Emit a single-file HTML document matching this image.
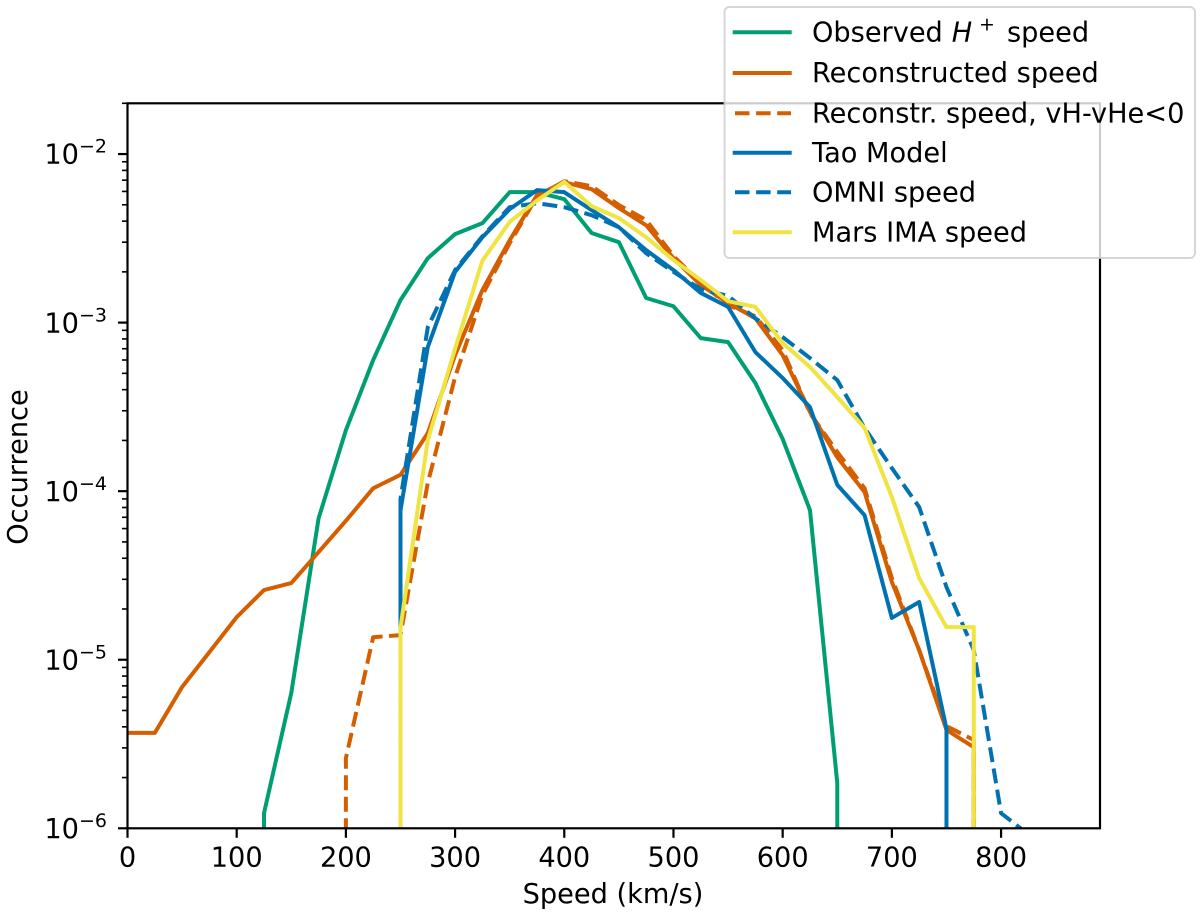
<!DOCTYPE html>
<html lang="en">
<head>
<meta charset="utf-8">
<title>Speed occurrence distribution</title>
<style>
html,body{margin:0;padding:0;background:#fff;}
svg{display:block;font-family:"DejaVu Sans","Liberation Sans",sans-serif;fill:#000;}
</style>
</head>
<body>
<svg id="chart" width="1200" height="919" viewBox="0 0 1200 919" xmlns="http://www.w3.org/2000/svg">
  <defs><clipPath id="plot-clip"><rect x="127.5" y="103.3" width="972.5" height="725"/></clipPath></defs>
  <g id="series" clip-path="url(#plot-clip)"></g>
  <g id="axes"></g>
  <text x="613" y="903" font-size="27.2" text-anchor="middle">Speed (km/s)</text>
  <text transform="translate(27,467) rotate(-90)" font-size="27.2" text-anchor="middle">Occurrence</text>
  <g>
    <rect x="724.5" y="7" width="470.5" height="251" rx="5" ry="5" fill="#fff" fill-opacity="0.8" stroke="#ccc" stroke-opacity="0.8" stroke-width="2"/>
    <line x1="732.7" x2="791.7" y1="32.3" y2="32.3" stroke="#009E73" stroke-width="4"/>
    <text y="41.5" font-size="27.2"><tspan x="812">Observed</tspan><tspan x="951.7" font-style="italic">H</tspan><tspan x="979" dy="-11" font-size="19">+</tspan><tspan x="1007" dy="11">speed</tspan></text>
    <line x1="732.7" x2="791.7" y1="73" y2="73" stroke="#D55E00" stroke-width="4"/>
    <text x="812" y="82.2" font-size="27.2">Reconstructed speed</text>
    <line x1="735" x2="791" y1="113.3" y2="113.3" stroke="#D55E00" stroke-width="4" stroke-dasharray="14.5 6.6"/>
    <text x="812" y="122.5" font-size="27.2">Reconstr. speed, vH-vHe&lt;0</text>
    <line x1="732.7" x2="791.7" y1="152.7" y2="152.7" stroke="#0072B2" stroke-width="4"/>
    <text x="812" y="161.9" font-size="27.2">Tao Model</text>
    <line x1="735" x2="791" y1="192.3" y2="192.3" stroke="#0072B2" stroke-width="4" stroke-dasharray="14.5 6.6"/>
    <text x="812" y="201.5" font-size="27.2">OMNI speed</text>
    <line x1="732.7" x2="791.7" y1="232.3" y2="232.3" stroke="#F0E442" stroke-width="4"/>
    <text x="812" y="241.5" font-size="27.2">Mars IMA speed</text>
  </g>
</svg>
<script>
var speeds = [0,25,50,75,100,125,150,175,200,225,250,275,300,325,350,375,400,425,450,475,500,525,550,575,600,625,650,675,700,725,750,775,800,825,850];
var observedH = [0,0,0,0,0,1.23e-6,6.35e-6,6.9e-5,2.3e-4,6.0e-4,1.36e-3,2.41e-3,3.35e-3,3.89e-3,5.94e-3,5.94e-3,5.4e-3,3.4e-3,3.0e-3,1.4e-3,1.25e-3,8.09e-4,7.66e-4,4.38e-4,2.04e-4,7.72e-5,1.86e-6,0,0,0,0,0,0,0,0];
var reconstructed = [3.68e-6,3.68e-6,6.89e-6,1.11e-5,1.79e-5,2.59e-5,2.85e-5,4.35e-5,6.67e-5,1.04e-4,1.25e-4,2.21e-4,6.41e-4,1.56e-3,3.08e-3,5.7e-3,6.81e-3,6.19e-3,4.78e-3,3.78e-3,2.41e-3,1.67e-3,1.31e-3,1.06e-3,6.41e-4,2.95e-4,1.59e-4,9.88e-5,2.89e-5,1.14e-5,3.83e-6,3.03e-6,0,0,0];
var reconstructedNeg = [0,0,0,0,0,0,0,0,2.61e-6,1.36e-5,1.4e-5,1.12e-4,4.75e-4,1.46e-3,2.96e-3,5.6e-3,6.9e-3,6.45e-3,4.98e-3,4.06e-3,2.48e-3,1.72e-3,1.27e-3,1.09e-3,6.87e-4,2.9e-4,1.71e-4,1.04e-4,3.05e-5,1.14e-5,4.04e-6,3.34e-6,0,0,0];
var taoModel = [0,0,0,0,0,0,0,0,0,0,7.7e-5,7.16e-4,2.0e-3,3.21e-3,4.71e-3,6.11e-3,5.94e-3,4.65e-3,3.68e-3,2.69e-3,2.05e-3,1.5e-3,1.24e-3,6.68e-4,4.69e-4,3.15e-4,1.09e-4,7.2e-5,1.77e-5,2.2e-5,3.9e-6,0,0,0,0];
var omni = [0,0,0,0,0,0,0,0,0,0,9.0e-5,9.4e-4,2.05e-3,3.25e-3,4.84e-3,5.11e-3,4.84e-3,4.34e-3,3.68e-3,2.58e-3,2.0e-3,1.58e-3,1.44e-3,1.06e-3,8.2e-4,6.16e-4,4.56e-4,2.37e-4,1.37e-4,8.05e-5,2.7e-5,1.14e-5,1.23e-6,9.2e-7,0];
var marsIma = [0,0,0,0,0,0,0,0,0,0,1.55e-5,2.01e-4,7.0e-4,2.33e-3,3.96e-3,5.3e-3,6.84e-3,4.91e-3,4.17e-3,3.21e-3,2.35e-3,1.79e-3,1.34e-3,1.24e-3,7.56e-4,5.45e-4,3.62e-4,2.37e-4,9.23e-5,3.05e-5,1.56e-5,1.56e-5,0,0,0];
var xTickValues = [0,100,200,300,400,500,600,700,800];
var yTickExponents = [-6,-5,-4,-3,-2];
var minorMultipliers = [2,3,4,5,6,7,8,9];

var NS = 'http://www.w3.org/2000/svg';
var plot = {left:127.5, right:1100, top:103.3, bottom:828.3, xMin:0, xMax:890.6, yMin:1e-6, yMax:0.02};
function xScale(v){ return plot.left + (v - plot.xMin) / (plot.xMax - plot.xMin) * (plot.right - plot.left); }
function yScale(v){ return plot.bottom - (Math.log10(v) - Math.log10(plot.yMin)) / (Math.log10(plot.yMax) - Math.log10(plot.yMin)) * (plot.bottom - plot.top); }
function make(tag, attrs){
  var el = document.createElementNS(NS, tag);
  for (var k in attrs) el.setAttribute(k, attrs[k]);
  return el;
}
function linePath(values){
  var parts = [];
  for (var i = 0; i < values.length; i++){
    if (values[i] > 0){
      parts.push([xScale(speeds[i]), yScale(values[i])]);
    } else if (i + 1 < values.length && values[i + 1] > 0){
      parts.push([xScale(speeds[i + 1]), plot.bottom + 5]);
    } else if (i > 0 && values[i - 1] > 0){
      parts.push([xScale(speeds[i - 1]), plot.bottom + 5]);
    }
  }
  return parts.map(function(p, j){ return (j ? 'L' : 'M') + p[0].toFixed(2) + ' ' + p[1].toFixed(2); }).join(' ');
}
var seriesGroup = document.getElementById('series');
var axesGroup = document.getElementById('axes');

function drawSeries(values, color, dashed, name){
  var path = make('path', {d: linePath(values), fill: 'none', stroke: color, 'stroke-width': 4, 'stroke-linejoin': 'round'});
  if (dashed) path.setAttribute('stroke-dasharray', '15 6.5');
  
  
  seriesGroup.appendChild(path);
}
drawSeries(observedH, '#009E73', false, 'observed-h-speed-line');
drawSeries(reconstructed, '#D55E00', false, 'reconstructed-speed-line');
drawSeries(reconstructedNeg, '#D55E00', true, 'reconstructed-negative-speed-line');
drawSeries(taoModel, '#0072B2', false, 'tao-model-line');
drawSeries(omni, '#0072B2', true, 'omni-speed-line');
drawSeries(marsIma, '#F0E442', false, 'mars-ima-speed-line');

var frame = make('rect', {x: plot.left, y: plot.top, width: plot.right - plot.left, height: plot.bottom - plot.top, fill: 'none', stroke: '#000', 'stroke-width': 2.2});


axesGroup.appendChild(frame);

xTickValues.forEach(function(v){
  var x = xScale(v);
  var tick = make('line', {x1: x, x2: x, y1: plot.bottom, y2: plot.bottom + 9.5, stroke: '#000', 'stroke-width': 2.2});
  
  
  axesGroup.appendChild(tick);
  var label = make('text', {x: x, y: 866.7, 'font-size': 27.2, 'text-anchor': 'middle'});
  label.textContent = String(v);
  
  
  axesGroup.appendChild(label);
});

yTickExponents.forEach(function(e){
  var y = yScale(Math.pow(10, e));
  var tick = make('line', {x1: plot.left - 9.5, x2: plot.left, y1: y, y2: y, stroke: '#000', 'stroke-width': 2.2});
  
  
  axesGroup.appendChild(tick);
  var label = make('text', {x: 107, y: y + 9.7, 'font-size': 27.2, 'text-anchor': 'end'});
  label.appendChild(document.createTextNode('10'));
  var sup = make('tspan', {dy: -11, 'font-size': 19});
  sup.textContent = '\u2212' + Math.abs(e);
  label.appendChild(sup);
  
  
  axesGroup.appendChild(label);
  minorMultipliers.forEach(function(m){
    var val = m * Math.pow(10, e);
    if (val > plot.yMax * 1.001) return;
    var my = yScale(val);
    var minor = make('line', {x1: plot.left - 5.5, x2: plot.left, y1: my, y2: my, stroke: '#000', 'stroke-width': 1.6});
    
    
    axesGroup.appendChild(minor);
  });
});
</script>
</body>
</html>
